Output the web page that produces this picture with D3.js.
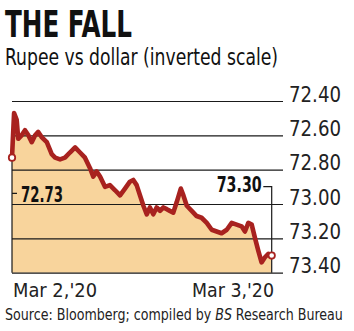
<!DOCTYPE html>
<html>
<head>
<meta charset="utf-8">
<script src="https://cdn.jsdelivr.net/npm/d3@7"></script>
<style>
  html, body { margin: 0; padding: 0; background: #fff; }
  svg { display: block; }
  .cond { font-family: "Liberation Sans Narrow", "DejaVu Sans Condensed", "Roboto Condensed", sans-serif; font-stretch: condensed; }
</style>
</head>
<body>
<svg id="chart" width="354" height="331"></svg>
<script>
// Rupee per US dollar, intraday, Mar 2 – Mar 3, 2020 (session time 0–100)
const sessionTime = [0, 0.8, 1.8, 2.4, 3.7, 5.0, 6.3, 7.6, 8.9, 10.1, 11.4, 13.4, 15.3, 16.6, 18.5,
  20.4, 22.3, 24.3, 26.2, 28.1, 30.0, 31.3, 32.6, 33.9, 35.8, 37.7, 39.7, 41.6, 43.5, 45.4,
  46.7, 48.0, 49.3, 50.6, 51.9, 53.1, 54.4, 55.7, 57.0, 58.3, 59.6, 60.8, 62.1, 63.4, 65.0,
  66.0, 67.3, 69.2, 71.1, 73.0, 75.0, 76.9, 78.8, 80.7, 82.7, 84.6, 86.5, 88.4, 89.7, 91.0,
  92.3, 93.6, 94.8, 96.1, 97.4, 98.7, 100];
const rupeeRate = [72.73, 72.47, 72.51, 72.62, 72.60, 72.57, 72.60, 72.64, 72.60, 72.58, 72.61, 72.64, 72.71, 72.73, 72.74,
  72.73, 72.70, 72.67, 72.70, 72.73, 72.79, 72.84, 72.81, 72.84, 72.90, 72.89, 72.92, 72.95, 72.91, 72.87,
  72.86, 72.89, 72.95, 73.01, 73.06, 73.02, 73.06, 73.02, 73.04, 73.02, 73.03, 73.04, 73.05, 72.99, 72.91,
  72.95, 73.01, 73.04, 73.07, 73.08, 73.11, 73.15, 73.16, 73.17, 73.15, 73.11, 73.12, 73.13, 73.16, 73.11,
  73.12, 73.20, 73.27, 73.34, 73.31, 73.29, 73.30];
const yTicks = [72.40, 72.60, 72.80, 73.00, 73.20, 73.40];
const xLabels = ["Mar 2,'20", "Mar 3,'20"];
const openRate = 72.73;
const closeRate = 73.30;
const sourceParts = [
  { text: "Source: Bloomberg; compiled by", italic: false },
  { text: "BS", italic: true },
  { text: "Research Bureau", italic: false }
];

const data = sessionTime.map((t, i) => ({ t, v: rupeeRate[i] }));

const svg = d3.select("#chart");
const LINE = "#a8221f", FILL = "#f8d49c", INK = "#1a1a1a";

const x = d3.scaleLinear().domain([0, 100]).range([12, 271.7]);
// inverted scale: a weaker rupee (higher rate) plots lower
const y = d3.scaleLinear().domain([72.4, 73.4]).range([101, 272.7]);

// title block
svg.append("text").attr("x", 5).attr("y", 37)
  .attr("font-family", "'DejaVu Sans Condensed', 'Liberation Sans Narrow', sans-serif")
  .attr("font-weight", 900).attr("font-size", 37).attr("fill", "#111")
  .attr("textLength", 127).attr("lengthAdjust", "spacingAndGlyphs")
  .text("THE FALL");
svg.append("text").attr("class", "cond").attr("x", 5).attr("y", 64.5)
  .attr("font-size", 23).attr("fill", "#111")
  .attr("textLength", 273).attr("lengthAdjust", "spacingAndGlyphs")
  .text("Rupee vs dollar (inverted scale)");

// shaded area below the rate line
svg.append("path").datum(data)
  .attr("fill", FILL)
  .attr("d", d3.area().x(d => x(d.t)).y0(y(73.4)).y1(d => y(d.v)));

// gridlines and right-hand labels
const yAxis = svg.append("g").attr("transform", `translate(${x(0)},0)`)
  .call(d3.axisRight(y).tickValues(yTicks).tickSize(283 - x(0)).tickPadding(6)
    .tickFormat(d3.format(".2f")));
yAxis.select(".domain").remove();
yAxis.selectAll(".tick line").attr("stroke", INK).attr("stroke-width", 1.2);
yAxis.selectAll(".tick text").attr("class", "cond").attr("dy", 0)
  .attr("font-size", 22).attr("fill", "#222")
  .attr("textLength", 52).attr("lengthAdjust", "spacingAndGlyphs");

// leader lines at both ends of the series
const lead = svg.append("g").attr("fill", "none").attr("stroke", INK).attr("stroke-width", 1.2);
lead.append("path").attr("d", `M${x(0)},${y(openRate)}V${y(73.4)}M${x(0)},193.3H${x(0) + 5}`);
lead.append("path").attr("d", `M263.3,186.7H${x(100)}V${y(73.4)}`);

// rate line
svg.append("path").datum(data)
  .attr("fill", "none").attr("stroke", LINE).attr("stroke-width", 4.6)
  .attr("stroke-linejoin", "round").attr("stroke-linecap", "round")
  .attr("d", d3.line().x(d => x(d.t)).y(d => y(d.v)));

// open / close markers
svg.selectAll("circle.end").data([data[0], data[data.length - 1]]).join("circle")
  .attr("class", "end").attr("cx", d => x(d.t)).attr("cy", d => y(d.v)).attr("r", 3.2)
  .attr("fill", "#fff").attr("stroke", LINE).attr("stroke-width", 1.8);

// value labels
svg.append("text").attr("class", "cond").attr("x", 21).attr("y", 202)
  .attr("font-size", 21).attr("font-weight", "bold").attr("fill", "#111")
  .attr("textLength", 42).attr("lengthAdjust", "spacingAndGlyphs")
  .text(openRate.toFixed(2));
svg.append("text").attr("class", "cond").attr("x", 216.7).attr("y", 191.7)
  .attr("font-size", 21).attr("font-weight", "bold").attr("fill", "#111")
  .attr("textLength", 45).attr("lengthAdjust", "spacingAndGlyphs")
  .text(closeRate.toFixed(2));

// date labels
svg.selectAll("text.xlab").data(xLabels).join("text")
  .attr("class", "xlab cond")
  .attr("x", (d, i) => i === 0 ? 13 : 192).attr("y", 296.5)
  .attr("font-size", 19).attr("fill", "#222")
  .attr("textLength", (d, i) => i === 0 ? 84 : 82).attr("lengthAdjust", "spacingAndGlyphs")
  .text(d => d);

// source line, laid out piece by piece and squeezed to the column width
const srcG = svg.append("g");
let cursor = 0;
sourceParts.forEach((p, i) => {
  const t = srcG.append("text").attr("class", "cond")
    .attr("x", cursor).attr("y", 0)
    .attr("font-size", 15).attr("fill", "#222")
    .attr("font-style", p.italic ? "italic" : "normal")
    .text(p.text);
  cursor += t.node().getComputedTextLength() + (i < sourceParts.length - 1 ? 4 : 0);
});
const squeeze = Math.min(1, 338 / cursor);
srcG.attr("transform", `translate(5,320) scale(${squeeze},1)`);
</script>
</body>
</html>
